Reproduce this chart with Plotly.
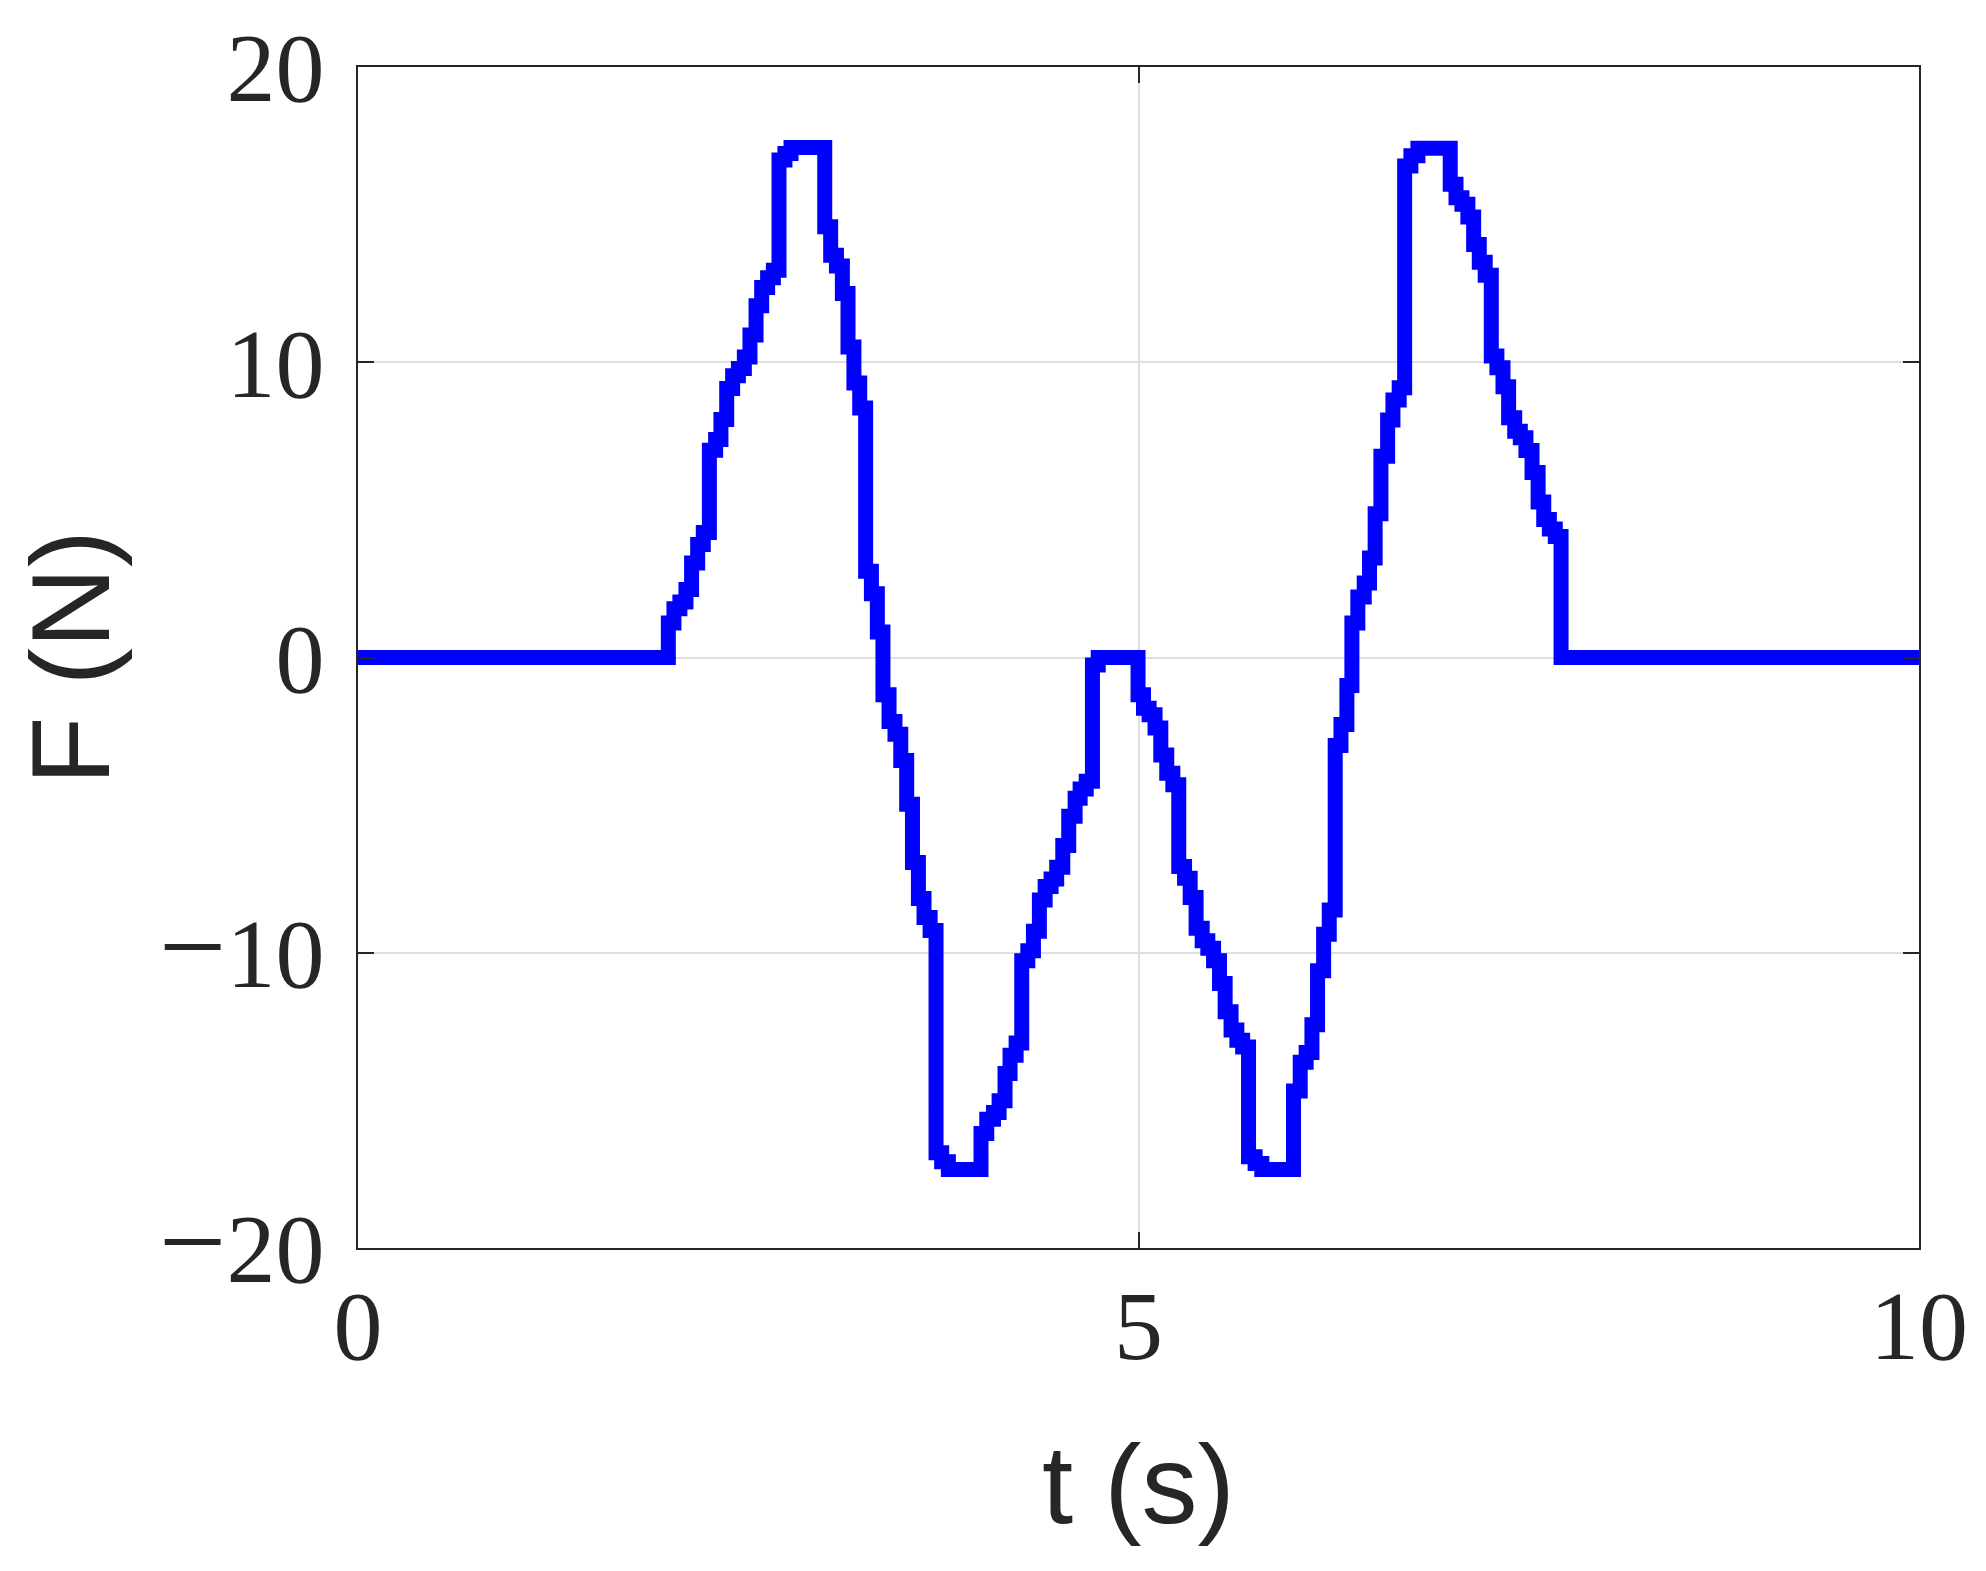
import plotly.graph_objects as go

# Breakpoints of the zero-order-hold force signal (time in s, force in N held until next breakpoint)
t_breaks = [
    0.0,
    1.988, 2.024, 2.062, 2.101, 2.137, 2.176, 2.212, 2.251, 2.291, 2.325,
    2.362, 2.400, 2.437, 2.475, 2.511, 2.550, 2.586, 2.624, 2.661, 2.697,
    2.735, 2.774,
    2.990, 3.028, 3.065, 3.103, 3.139, 3.177, 3.214, 3.252, 3.289, 3.327,
    3.363, 3.402, 3.440, 3.477, 3.515, 3.552, 3.590, 3.626, 3.665, 3.703,
    3.739, 3.782,
    3.991, 4.028, 4.071, 4.107, 4.145, 4.177, 4.216, 4.252, 4.291, 4.327,
    4.365, 4.402, 4.440, 4.476, 4.515, 4.553, 4.594, 4.626, 4.665, 4.705,
    4.742,
    4.997, 5.032, 5.068, 5.106, 5.143, 5.181, 5.220, 5.258, 5.295, 5.331,
    5.369, 5.408, 5.444, 5.481, 5.519, 5.555, 5.593, 5.630, 5.667, 5.705,
    5.747, 5.790,
    5.993, 6.036, 6.074, 6.111, 6.147, 6.186, 6.222, 6.260, 6.297, 6.335,
    6.367, 6.405, 6.446, 6.480, 6.516, 6.553, 6.596, 6.630, 6.670, 6.705,
    6.745, 6.790,
    6.997, 7.034, 7.072, 7.110, 7.147, 7.183, 7.221, 7.260, 7.296, 7.335,
    7.371, 7.410, 7.446, 7.482, 7.521, 7.560, 7.596, 7.632, 7.670, 7.707,
    10.0,
]

f_levels = [
    0.0,
    1.17, 1.65, 1.88, 2.30, 3.20, 3.83, 4.23, 7.02, 7.38, 8.06,
    9.11, 9.54, 9.79, 10.18, 10.92, 11.91, 12.53, 12.86, 13.12, 16.85,
    17.07, 17.27,
    14.59, 13.62, 13.26, 12.33, 10.52, 9.30, 8.45, 2.92, 2.16, 0.86,
    -1.26, -2.17, -2.60, -3.49, -4.97, -6.94, -8.16, -8.81, -9.25, -16.77,
    -17.08, -17.34,
    -16.12, -15.64, -15.41, -15.01, -14.09, -13.47, -13.06, -10.27, -9.93, -9.27,
    -8.21, -7.76, -7.50, -7.10, -6.37, -5.38, -4.77, -4.45, -4.19, -0.25,
    0.0,
    -1.26, -1.72, -1.94, -2.39, -3.30, -3.92, -4.31, -7.08, -7.48, -8.13,
    -9.17, -9.59, -9.85, -10.27, -11.04, -12.00, -12.62, -12.96, -13.19, -16.91,
    -17.14, -17.34,
    -14.68, -13.71, -13.38, -12.44, -10.61, -9.37, -8.55, -2.98, -2.27, -0.95,
    1.17, 2.05, 2.52, 3.37, 4.87, 6.82, 8.04, 8.72, 9.14, 16.65,
    16.99, 17.25,
    16.03, 15.57, 15.35, 14.92, 13.99, 13.39, 12.95, 10.21, 9.81, 9.17,
    8.12, 7.66, 7.44, 7.01, 6.27, 5.27, 4.67, 4.35, 4.10, 0.0,
    0.0,
]

x_ticks = [0, 5, 10]
y_ticks = [-20, -10, 0, 10, 20]
y_tick_labels = [
    ('<span style="font-size:120px">\u2212</span>' + str(abs(v))) if v < 0 else str(v)
    for v in y_ticks
]

axis_color = "#262626"
grid_color = "#dfdfdf"

fig = go.Figure(
    go.Scatter(
        x=t_breaks,
        y=f_levels,
        mode="lines",
        line=dict(color="#0000ff", width=15, shape="hv"),
        showlegend=False,
    )
)

common_axis = dict(
    ticks="inside",
    ticklen=16,
    tickwidth=2,
    tickcolor=axis_color,
    showline=True,
    linecolor=axis_color,
    linewidth=2,
    mirror="allticks",
    showgrid=True,
    gridcolor=grid_color,
    gridwidth=2,
    zeroline=False,
    tickfont=dict(family="Liberation Serif", size=98, color=axis_color),
)

fig.update_layout(
    width=1970,
    height=1555,
    margin=dict(l=350, r=59, t=59, b=315, autoexpand=False),
    paper_bgcolor="white",
    plot_bgcolor="white",
    xaxis=dict(
        range=[0, 10],
        tickvals=x_ticks,
        ticktext=[str(v) for v in x_ticks],
        ticklabelstandoff=-9,
        title=dict(text="t (s)", font=dict(family="Liberation Sans", size=112, color=axis_color), standoff=66),
        **common_axis,
    ),
    yaxis=dict(
        range=[-20, 20],
        tickvals=y_ticks,
        ticktext=y_tick_labels,
        ticklabelstandoff=12,
        title=dict(text="F (N)", font=dict(family="Liberation Sans", size=112, color=axis_color), standoff=20),
        **common_axis,
    ),
)

fig.write_html("out.html")
